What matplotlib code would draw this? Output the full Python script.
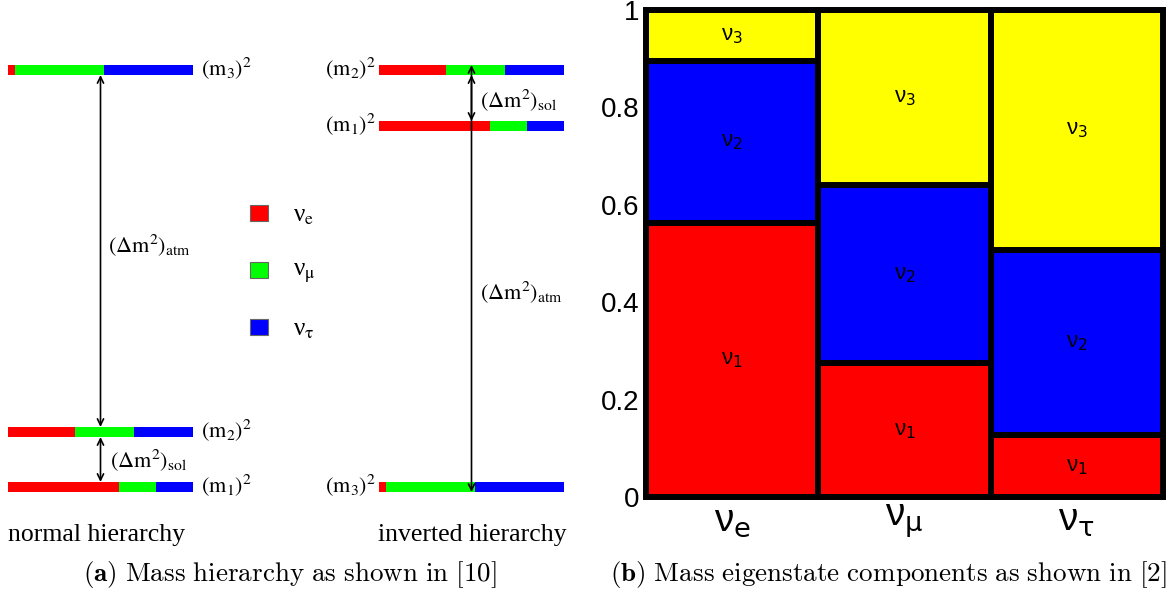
import numpy as np
import matplotlib.pyplot as plt

plt.rcParams['font.family'] = ['Liberation Sans', 'DejaVu Sans']
plt.rcParams['mathtext.fontset'] = 'dejavusans'

# ---------------- data ----------------
flavour_colors = ['#ff0000', '#00ff00', '#0000ff']   # e, mu, tau
legend_labels = ['ν$_\\mathrm{e}$', 'ν$_\\mathrm{μ}$', 'ν$_\\mathrm{τ}$']

# flavour content (e, mu, tau) of each mass state in the level diagram
m1_content = [0.60, 0.20, 0.20]
m2_content = [0.36, 0.32, 0.32]
m3_content = [0.04, 0.48, 0.48]
mass_labels = [r'$(\mathrm{m}_1)^2$', r'$(\mathrm{m}_2)^2$', r'$(\mathrm{m}_3)^2$']

# schematic level heights (m1, m2, m3)
normal_levels = [0, 55, 417]
inverted_levels = [361, 417, 0]

# right panel: share of each mass eigenstate in each flavour
flavour_ticks = ['ν$_\\mathrm{e}$', 'ν$_\\mathrm{μ}$', 'ν$_\\mathrm{τ}$']
nu1_share = [0.563, 0.275, 0.127]
nu2_share = [0.332, 0.365, 0.381]
nu3_share = [0.105, 0.360, 0.492]
cell_colors = ['#ff0000', '#0000ff', '#ffff00']
cell_labels = ['ν$_1$', 'ν$_2$', 'ν$_3$']
yticks = [0, 0.2, 0.4, 0.6, 0.8, 1]
ytick_labels = ['0', '0.2', '0.4', '0.6', '0.8', '1']

fig = plt.figure(figsize=(11.73, 5.96), dpi=100)

# ---------------- left: mass hierarchy ----------------
ax_l = fig.add_axes([0, 0, 586 / 1173, 1])
ax_l.set_xlim(0, 586)
ax_l.set_ylim(-109, 487)
ax_l.axis('off')

serif = ['Liberation Serif', 'DejaVu Serif']
BAR_LEN = 185
BAR_H = 10


def draw_level(x0, y, content):
    lefts = x0 + BAR_LEN * np.concatenate([[0], np.cumsum(content)[:-1]])
    widths = BAR_LEN * np.array(content)
    ax_l.barh([y] * 3, widths, left=lefts, height=BAR_H,
              color=flavour_colors, edgecolor='none')


def arrow(x, y0, y1):
    ax_l.annotate('', xy=(x, y1), xytext=(x, y0),
                  arrowprops=dict(arrowstyle='<->,head_length=0.45,head_width=0.22',
                                  lw=1.2, color='black', shrinkA=0, shrinkB=0))


contents = [m1_content, m2_content, m3_content]

# normal hierarchy
x_n = 8
for lev, cont, lab in zip(normal_levels, contents, mass_labels):
    draw_level(x_n, lev, cont)
    ax_l.text(x_n + BAR_LEN + 8, lev + 2, lab, fontsize=16, family=serif,
              math_fontfamily='stix', ha='left', va='center')
xc = x_n + BAR_LEN / 2
arrow(xc, normal_levels[1] + 5, normal_levels[2] - 5)
arrow(xc, normal_levels[0] + 5, normal_levels[1] - 5)
ax_l.text(xc + 8, 242, r'$(\Delta\mathrm{m}^2)_\mathrm{atm}$', fontsize=16,
          math_fontfamily='stix', ha='left', va='center')
ax_l.text(xc + 9, 27, r'$(\Delta\mathrm{m}^2)_\mathrm{sol}$', fontsize=16,
          math_fontfamily='stix', ha='left', va='center')

# inverted hierarchy
x_i = 379
for lev, cont, lab in zip(inverted_levels, contents, mass_labels):
    draw_level(x_i, lev, cont)
    ax_l.text(x_i - 3, lev + 2, lab, fontsize=16, family=serif,
              math_fontfamily='stix', ha='right', va='center')
xc = x_i + BAR_LEN / 2
arrow(xc, inverted_levels[0] + 5, inverted_levels[1] - 5)
arrow(xc, inverted_levels[1] + 5, inverted_levels[2] - 5)
ax_l.text(xc + 8, 195, r'$(\Delta\mathrm{m}^2)_\mathrm{atm}$', fontsize=16,
          math_fontfamily='stix', ha='left', va='center')
ax_l.text(xc + 9, 387, r'$(\Delta\mathrm{m}^2)_\mathrm{sol}$', fontsize=16,
          math_fontfamily='stix', ha='left', va='center')

# legend
leg_y = [274, 217, 160]
ax_l.bar([259] * 3, [16] * 3, bottom=np.array(leg_y) - 8, width=18,
         color=flavour_colors, edgecolor='#666666', linewidth=0.8)
for y, lab in zip(leg_y, legend_labels):
    ax_l.text(293, y - 3, lab, fontsize=18, family=serif, math_fontfamily='stix',
              ha='left', va='center')

ax_l.text(8, -48, 'normal hierarchy', fontsize=18.5, family=serif,
          ha='left', va='center')
ax_l.text(378, -48, 'inverted hierarchy', fontsize=18.5, family=serif,
          ha='left', va='center')

# ---------------- right: mass eigenstate components ----------------
ax_r = fig.add_axes([646 / 1173, 1 - 497 / 596, 517 / 1173, 487 / 596])
x = np.arange(3) + 0.5
shares = [nu1_share, nu2_share, nu3_share]
bottom = np.zeros(3)
for share, col, lab in zip(shares, cell_colors, cell_labels):
    share = np.array(share)
    ax_r.bar(x, share, width=1, bottom=bottom, color=col, edgecolor='black',
             linewidth=4.3, clip_on=False)
    for xi, b, s in zip(x, bottom, share):
        ax_r.text(xi, b + s / 2, lab, fontsize=16, ha='center', va='center')
    bottom += share

ax_r.set_xlim(0, 3)
ax_r.set_ylim(0, 1)
for sp in ax_r.spines.values():
    sp.set_visible(False)
ax_r.set_yticks(yticks)
ax_r.set_yticklabels(ytick_labels, fontsize=20)
ax_r.set_xticks(x)
ax_r.set_xticklabels(flavour_ticks, fontsize=28)
ax_r.tick_params(axis='y', length=0, pad=5)
ax_r.tick_params(axis='x', length=0, pad=4)

# ---------------- captions ----------------
fig.text(290 / 1173, 1 - 575 / 596,
         r'$\mathbf{(a)}\ \mathrm{Mass\ hierarchy\ as\ shown\ in\ [10]}$',
         fontsize=19.5, math_fontfamily='cm', ha='center', va='center')
fig.text(888 / 1173, 1 - 575 / 596,
         r'$\mathbf{(b)}\ \mathrm{Mass\ eigenstate\ components\ as\ shown\ in\ [2]}$',
         fontsize=19.5, math_fontfamily='cm', ha='center', va='center')

fig.savefig('out.png', dpi=100)
